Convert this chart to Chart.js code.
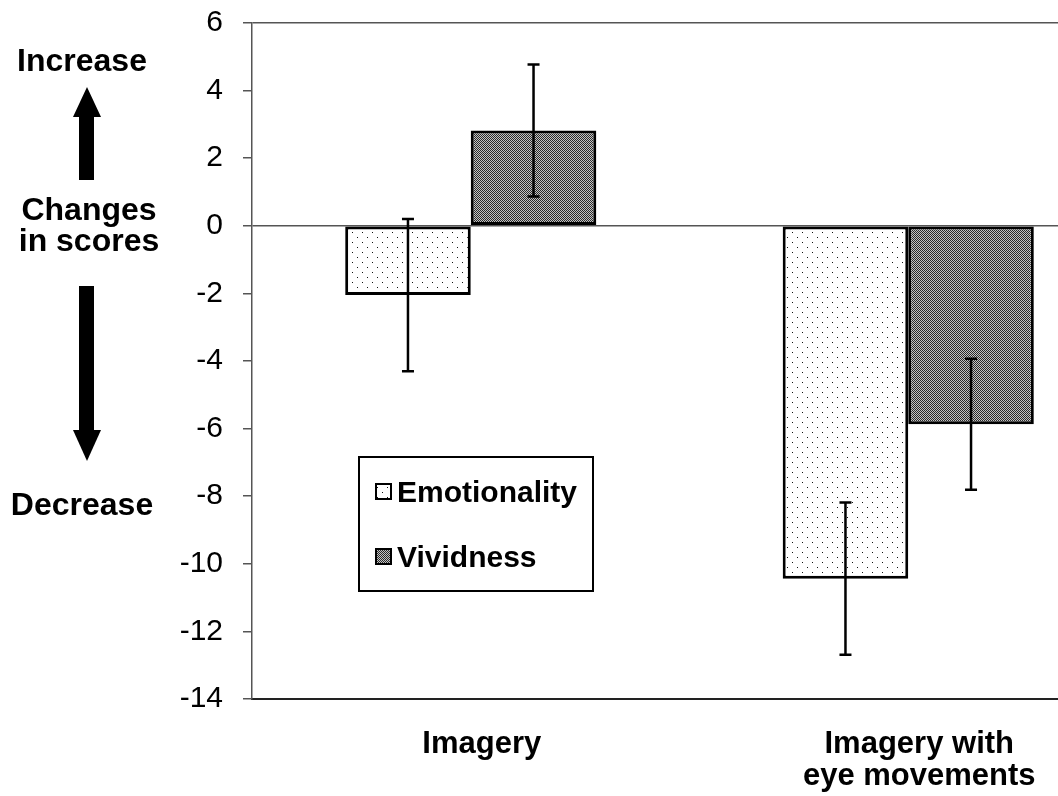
<!DOCTYPE html>
<html>
<head>
<meta charset="utf-8">
<script src="https://cdn.jsdelivr.net/npm/chart.js@4.4.1/dist/chart.umd.min.js"></script>
<style>
  html, body { margin: 0; padding: 0; background: #fff; overflow: hidden; }
  canvas { display: block; }
</style>
</head>
<body>
<canvas id="scoresChart" width="1127" height="796"></canvas>
<script>
// Chart data
const categories = ["Imagery", ["Imagery with", "eye movements"]];
const seriesNames = ["Emotionality", "Vividness"];
const emotionality = [-2.05, -10.44];
const vividness = [2.82, -5.87];
const emotionalityErr = [2.25, 2.25];
const vividnessErr = [1.95, 1.94];
const yMin = -14;
const yMax = 6;
const yStep = 2;

const FONT = "'Liberation Sans', Arial, sans-serif";

// Fill patterns for the bars
function dotPattern() {
    const c = document.createElement("canvas");
    c.width = 10;
    c.height = 10;
    const g = c.getContext("2d");
    g.fillStyle = "#fff";
    g.fillRect(0, 0, 10, 10);
    g.fillStyle = "#111";
    g.fillRect(2, 2, 1, 1);
    g.fillRect(7, 7, 1, 1);
    return g.createPattern(c, "repeat");
}

function checkPattern() {
    const c = document.createElement("canvas");
    c.width = 2;
    c.height = 2;
    const g = c.getContext("2d");
    g.fillStyle = "#c4c4c4";
    g.fillRect(0, 0, 2, 2);
    g.fillStyle = "#2a2a2a";
    g.fillRect(0, 0, 1, 1);
    g.fillRect(1, 1, 1, 1);
    return g.createPattern(c, "repeat");
}

const emoFill = dotPattern();
const vivFill = checkPattern();

// Error bars drawn on top of the bars
const errorBars = {
    id: "errorBars",
    afterDatasetsDraw(chart) {
        const { ctx } = chart;
        const y = chart.scales.y;
        const errs = [emotionalityErr, vividnessErr];
        chart.data.datasets.forEach((ds, i) => {
            chart.getDatasetMeta(i).data.forEach((bar, j) => {
                const v = ds.data[j];
                const top = y.getPixelForValue(v + errs[i][j]);
                const bot = y.getPixelForValue(v - errs[i][j]);
                ctx.save();
                ctx.strokeStyle = "#000";
                ctx.lineWidth = 2.5;
                ctx.beginPath();
                ctx.moveTo(bar.x, top);
                ctx.lineTo(bar.x, bot);
                ctx.moveTo(bar.x - 6, top);
                ctx.lineTo(bar.x + 6, top);
                ctx.moveTo(bar.x - 6, bot);
                ctx.lineTo(bar.x + 6, bot);
                ctx.stroke();
                ctx.restore();
            });
        });
    },
};

// Boxed legend inside the plot and the arrows on the left
const extras = {
    id: "extras",
    afterDraw(chart) {
        const { ctx } = chart;
        ctx.save();

        // legend box
        ctx.fillStyle = "#fff";
        ctx.fillRect(359, 457, 234, 134);
        ctx.strokeStyle = "#000";
        ctx.lineWidth = 2;
        ctx.strokeRect(359, 457, 234, 134);

        const fills = [emoFill, vivFill];
        const rows = [502, 567];
        ctx.font = "bold 30px " + FONT;
        ctx.textAlign = "left";
        ctx.textBaseline = "alphabetic";
        seriesNames.forEach((name, i) => {
            ctx.fillStyle = fills[i];
            ctx.fillRect(376, rows[i] - 18, 15, 15);
            ctx.strokeStyle = "#000";
            ctx.lineWidth = 2;
            ctx.strokeRect(376, rows[i] - 18, 15, 15);
            ctx.fillStyle = "#000";
            ctx.fillText(name, 397, rows[i]);
        });

        // side annotation
        ctx.fillStyle = "#000";
        ctx.font = "bold 32px " + FONT;
        ctx.textAlign = "center";
        ctx.fillText("Increase", 82, 71);
        ctx.fillText("Changes", 89, 220);
        ctx.fillText("in scores", 89, 251);
        ctx.fillText("Decrease", 82, 515);

        // up arrow
        ctx.fillRect(79, 116, 15, 64);
        ctx.beginPath();
        ctx.moveTo(73, 117);
        ctx.lineTo(101, 117);
        ctx.lineTo(87, 87);
        ctx.closePath();
        ctx.fill();

        // down arrow
        ctx.fillRect(79, 286, 15, 145);
        ctx.beginPath();
        ctx.moveTo(73, 430);
        ctx.lineTo(101, 430);
        ctx.lineTo(87, 461);
        ctx.closePath();
        ctx.fill();

        ctx.restore();
    },
};

const scoresChart = new Chart(document.getElementById("scoresChart"), {
    type: "bar",
    data: {
        labels: categories,
        datasets: [
            {
                label: seriesNames[0],
                data: emotionality,
                backgroundColor: emoFill,
                borderColor: "#000",
                borderWidth: 3,
                borderSkipped: false,
            },
            {
                label: seriesNames[1],
                data: vividness,
                backgroundColor: vivFill,
                borderColor: "#000",
                borderWidth: 3,
                borderSkipped: false,
            },
        ],
    },
    options: {
        responsive: false,
        animation: false,
        devicePixelRatio: 1,
        barPercentage: 1,
        categoryPercentage: 0.574,
        layout: { padding: { top: 23, right: 0, left: 0, bottom: 0 } },
        plugins: {
            legend: { display: false },
            tooltip: { enabled: false },
        },
        scales: {
            x: {
                grid: { display: false, drawTicks: false },
                border: { color: "#222", width: 2 },
                ticks: {
                    color: "#000",
                    font: { family: FONT, size: 31, weight: "bold", lineHeight: 1.05 },
                    padding: 29,
                    labelOffset: 11,
                    maxRotation: 0,
                    autoSkip: false,
                },
                afterFit: (s) => { s.height = 97; },
            },
            y: {
                min: yMin,
                max: yMax,
                ticks: {
                    stepSize: yStep,
                    color: "#000",
                    font: { family: FONT, size: 30 },
                    padding: 20,
                },
                grid: {
                    color: (c) => (c.tick && (c.tick.value === 0 || c.tick.value === yMax)) ? "#555" : "rgba(0,0,0,0)",
                    tickColor: "#555",
                    tickLength: 9,
                    lineWidth: 1.5,
                },
                border: { color: "#555", width: 1.5 },
                afterFit: (s) => {
                    s.width = 252;
                    s.paddingTop = 0;
                    s.paddingBottom = 0;
                },
            },
        },
    },
    plugins: [errorBars, extras],
});
</script>
</body>
</html>
